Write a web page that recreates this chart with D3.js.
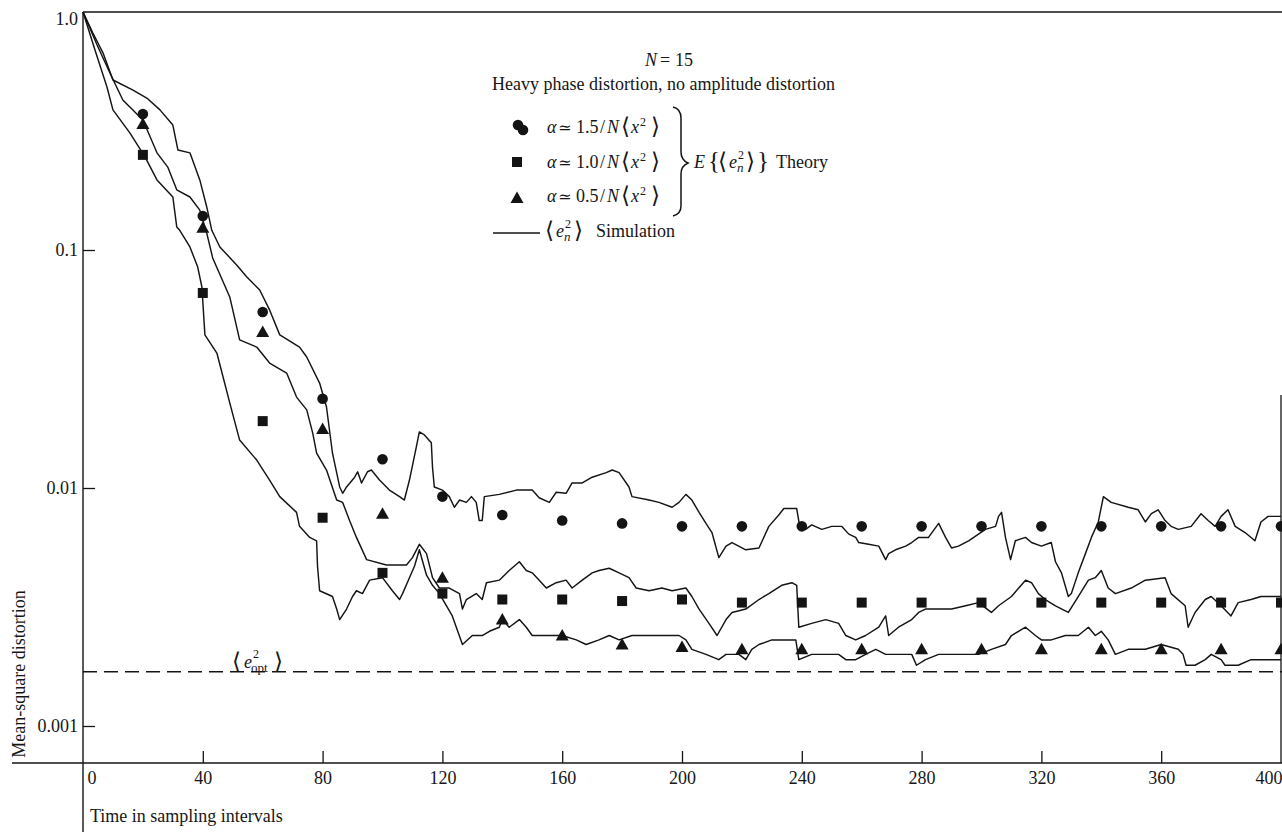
<!DOCTYPE html>
<html>
<head>
<meta charset="utf-8">
<script src="https://cdn.jsdelivr.net/npm/d3@7"></script>
<style>
  body { margin: 0; background: #fff; }
  svg { display: block; }
  text { font-family: "Liberation Serif", "DejaVu Serif", serif; fill: #161616; }
</style>
</head>
<body>
<svg id="chart" width="1282" height="832"></svg>
<script>
// x ticks (time in sampling intervals) and y ticks (mean-square distortion)
var xTicks = [0, 40, 80, 120, 160, 200, 240, 280, 320, 360, 400];
var yTicks = [1, 0.1, 0.01, 0.001];
var yTickLabels = ['1.0', '0.1', '0.01', '0.001'];

// theory points E{<e_n^2>} every 20 samples
var theoryX = [20, 40, 60, 80, 100, 120, 140, 160, 180, 200, 220, 240, 260, 280, 300, 320, 340, 360, 380, 400];
var theoryA15 = [0.373, 0.139, 0.0549, 0.0237, 0.0132, 0.0092, 0.0077, 0.0073, 0.0071, 0.0069,
                 0.0069, 0.0069, 0.0069, 0.0069, 0.0069, 0.0069, 0.0069, 0.0069, 0.0069, 0.0069];
var theoryA10 = [0.251, 0.066, 0.0191, 0.0075, 0.0044, 0.0036, 0.0034, 0.0034, 0.00335, 0.0034,
                 0.0033, 0.0033, 0.0033, 0.0033, 0.0033, 0.0033, 0.0033, 0.0033, 0.0033, 0.0033];
var theoryA05 = [0.338, 0.124, 0.0452, 0.0177, 0.0078, 0.0042, 0.0028, 0.0024, 0.0022, 0.00215,
                 0.0021, 0.0021, 0.0021, 0.0021, 0.0021, 0.0021, 0.0021, 0.0021, 0.0021, 0.0021];

// optimum (Wiener) level
var eOpt = 0.00169;

// simulation runs <e_n^2>: [time, value]
var simUpper = [[0,1.0],[3.3,0.816],[6.7,0.672],[10,0.518],[16.7,0.470],[21.3,0.435],[25.7,0.388],[30,0.335],
  [31.7,0.263],[35.7,0.256],[39,0.197],[41.3,0.152],[43,0.121],[45.7,0.103],[51.3,0.0865],[54.7,0.077],[59,0.0679],
  [62.3,0.056],[65.7,0.044],[72.3,0.0391],[74.7,0.0355],[79,0.0276],[81.3,0.0219],[83.3,0.014],[85.7,0.0101],
  [86.7,0.0095],[88,0.0101],[90.7,0.0111],[91.7,0.0117],[93,0.0105],[95,0.0117],[96.3,0.0119],[99,0.0108],
  [102.3,0.0098],[105.7,0.0092],[107.3,0.0089],[109,0.0108],[111.3,0.0149],[112.3,0.0172],[114,0.0167],
  [116.3,0.0155],[116.7,0.0122],[117.3,0.0101],[120,0.0098],[122.3,0.0092],[124,0.0083],[125.7,0.0089],
  [128,0.0087],[129.7,0.0092],[131.3,0.0087],[132.3,0.0073],[133.3,0.0073],[134,0.0092],[139,0.0094],
  [144.7,0.0098],[150,0.0098],[152.3,0.0091],[155.7,0.0087],[158,0.0096],[161.3,0.0095],[163.3,0.0105],
  [166.7,0.0105],[170,0.0111],[174.7,0.0116],[176.7,0.0119],[179,0.0116],[182.3,0.0101],[183.3,0.0092],
  [189,0.0089],[192.3,0.0087],[196.7,0.0083],[199,0.0087],[201.3,0.0094],[203.3,0.0089],[205.7,0.0079],
  [208,0.0071],[210,0.0065],[212.3,0.0051],[214.7,0.0057],[216.7,0.0059],[221.3,0.0055],[225.7,0.0056],
  [229,0.0069],[232.3,0.0077],[234,0.0082],[238.3,0.0082],[239.3,0.0069],[241.3,0.0067],[243.3,0.007],
  [246.7,0.0067],[250,0.0069],[253.3,0.0069],[255.7,0.0064],[258,0.0062],[259,0.0059],[262.3,0.0058],
  [265.7,0.0057],[268,0.005],[269,0.0053],[271.3,0.0055],[274.7,0.0057],[276.7,0.0059],[279,0.0062],
  [282.3,0.0062],[285.7,0.0071],[288,0.0062],[290,0.0056],[292.3,0.0057],[295.7,0.006],[299,0.0064],
  [301.3,0.0067],[304.7,0.0069],[305.7,0.0076],[306.7,0.0079],[308,0.0062],[309.7,0.005],[311.3,0.006],
  [314.7,0.0062],[316.7,0.0059],[320,0.0057],[323.3,0.0059],[324.7,0.0049],[326.7,0.0044],[329,0.0035],
  [330,0.0036],[332.3,0.0044],[334.7,0.0053],[336.7,0.0062],[339,0.0072],[340.7,0.0092],[343.3,0.0087],
  [349,0.0083],[352.3,0.0081],[354.7,0.0072],[356.7,0.0078],[359,0.0081],[361.3,0.0073],[363.3,0.0069],
  [365.7,0.0067],[370,0.0069],[373.3,0.0078],[375.7,0.0073],[378,0.0069],[380,0.0076],[382.3,0.0081],
  [384.7,0.0069],[388,0.0065],[391.3,0.006],[393.3,0.0072],[395.7,0.0076],[400,0.0076]];

var simMiddle = [[0,1.0],[4.7,0.727],[9,0.554],[13.3,0.427],[20,0.352],[24.7,0.256],[28.3,0.223],[31.3,0.179],
  [35.7,0.167],[39,0.147],[41.3,0.118],[43.3,0.0926],[49,0.0635],[52.3,0.0419],[58,0.0391],[62.3,0.0335],
  [68,0.0304],[71.3,0.0241],[74.7,0.0213],[76.7,0.017],[78,0.014],[81.3,0.0119],[84.7,0.0089],[86.7,0.0087],
  [89,0.0073],[91.3,0.0062],[94.7,0.005],[101.3,0.00475],[108,0.00475],[110,0.0051],[112.3,0.0058],
  [114.7,0.0053],[116.7,0.0042],[119,0.0038],[122.3,0.0038],[125.7,0.0036],[126.7,0.0031],[128,0.0034],
  [131.3,0.0036],[133.3,0.0034],[134.7,0.004],[139,0.0041],[142.3,0.0045],[145.7,0.0049],[148,0.0045],
  [150,0.0044],[154.7,0.0038],[158,0.004],[161.3,0.0041],[163.3,0.0038],[166.7,0.0041],[170,0.0044],
  [172.3,0.0045],[175.7,0.0046],[179,0.0044],[182.3,0.0042],[184.7,0.0038],[189,0.0037],[193.3,0.0038],
  [196.7,0.0037],[201.3,0.0038],[203.3,0.0035],[205.7,0.0031],[209,0.0027],[211.7,0.0024],[214.7,0.0028],
  [216.7,0.003],[221.3,0.0031],[225.7,0.0034],[229,0.0036],[233.3,0.0039],[236.7,0.004],[238.3,0.0039],
  [239,0.0026],[243.3,0.0027],[248,0.0028],[252.3,0.0027],[254.7,0.0024],[258,0.0023],[261.3,0.0024],
  [265.7,0.0026],[268,0.0029],[269,0.0024],[272.3,0.0026],[276.7,0.0028],[279,0.003],[281.3,0.0031],
  [285.7,0.0031],[290,0.0031],[294.7,0.0032],[299,0.0033],[303.3,0.003],[305.7,0.0032],[310,0.0035],
  [314.7,0.0041],[316.7,0.004],[319,0.0036],[321.3,0.0034],[324.7,0.0032],[329,0.003],[332.3,0.0035],
  [335.7,0.0041],[338,0.0042],[340,0.0045],[342.3,0.0038],[344.7,0.0036],[350,0.0038],[354.7,0.0041],
  [361.3,0.0042],[363.3,0.0036],[368,0.0032],[369,0.0026],[371.3,0.003],[374.7,0.0034],[376.7,0.0035],
  [380,0.0032],[383.3,0.0029],[385.7,0.0033],[390,0.0034],[393.3,0.0035],[400,0.0035]];

var simLower = [[0,1.0],[4,0.692],[8,0.484],[10,0.388],[15.7,0.31],[20.7,0.246],[24.7,0.197],[30,0.167],
  [31.3,0.125],[32.3,0.121],[35.7,0.103],[38.3,0.0848],[39.7,0.0699],[40.7,0.044],[44.7,0.0369],[49,0.0228],
  [52.3,0.0159],[58,0.0131],[62.3,0.0108],[65.7,0.0092],[71.3,0.0079],[72.3,0.0069],[75.7,0.0062],[78,0.006],
  [78.3,0.0047],[79,0.0037],[83.3,0.0035],[84.7,0.0031],[85.7,0.0028],[88,0.0031],[90,0.0035],[91.3,0.0037],
  [93.3,0.0036],[95.7,0.0041],[100,0.0042],[103.3,0.0037],[105.7,0.0034],[106.7,0.0036],[109,0.0042],
  [110.7,0.0047],[112.3,0.0055],[114.7,0.0043],[116.7,0.0039],[119,0.0036],[123.3,0.0029],[126.7,0.0022],
  [130,0.0024],[133.3,0.0024],[135.7,0.0025],[139,0.0026],[140,0.0028],[142.3,0.0026],[145.7,0.0028],
  [148,0.0026],[150,0.0024],[156.7,0.0024],[160,0.0024],[164.7,0.0023],[168,0.0022],[172.3,0.0023],
  [175.7,0.0024],[179,0.0023],[183.3,0.0024],[189,0.0024],[194.7,0.0024],[199,0.0024],[201.3,0.0023],
  [203.3,0.0021],[208,0.002],[212.3,0.0019],[214.7,0.002],[219,0.002],[221.3,0.0019],[223.3,0.0021],
  [225.7,0.0022],[230,0.0023],[234.7,0.0023],[238,0.0023],[239,0.0019],[243.3,0.002],[248,0.002],
  [252.3,0.002],[254.7,0.0019],[258,0.0019],[261.3,0.002],[264.7,0.0021],[268,0.002],[272.3,0.002],
  [276.7,0.002],[278.3,0.0018],[281.3,0.0019],[285.7,0.002],[290,0.002],[294.7,0.002],[299,0.002],
  [303.3,0.0021],[308,0.0022],[310,0.0024],[314.7,0.0026],[318,0.0024],[320,0.0023],[323.3,0.0023],
  [328,0.0024],[332.3,0.0024],[335.7,0.0026],[338,0.0024],[340,0.0025],[342.3,0.0023],[344.7,0.002],
  [349,0.0021],[354.7,0.0021],[360,0.0022],[365.7,0.0021],[367.3,0.002],[368.3,0.0018],[371.3,0.0018],
  [374.7,0.0019],[376.7,0.002],[380,0.0019],[381.3,0.0018],[385.7,0.0018],[390,0.0019],[394.7,0.0019],
  [400,0.0019]];

var ink = '#141414';
var svg = d3.select('#chart');

var x = d3.scaleLinear().domain([0, 400]).range([83, 1281]);
var y = d3.scaleLog().domain([0.001, 1]).range([726, 12]);
var yBase = 763; // the time axis sits a bit below 0.001

// frame lines
svg.append('line').attr('x1', 12).attr('x2', 1282).attr('y1', yBase).attr('y2', yBase)
  .attr('stroke', ink).attr('stroke-width', 1.5);
svg.append('line').attr('x1', x(0)).attr('x2', x(0)).attr('y1', y(1)).attr('y2', 832)
  .attr('stroke', ink).attr('stroke-width', 1.4);
svg.append('line').attr('x1', x(0)).attr('x2', 1282).attr('y1', y(1)).attr('y2', y(1))
  .attr('stroke', ink).attr('stroke-width', 1.3);
svg.append('line').attr('x1', x(400)).attr('x2', x(400)).attr('y1', 395).attr('y2', yBase)
  .attr('stroke', ink).attr('stroke-width', 1.3);

// x axis: ticks point up into the plot, labels below
var xAxis = d3.axisBottom(x).tickValues(xTicks).tickSizeInner(-12).tickSizeOuter(0)
  .tickPadding(8).tickFormat(function(d) { return d; });
var gx = svg.append('g').attr('transform', 'translate(0,' + yBase + ')').call(xAxis);
gx.select('.domain').remove();
gx.attr('font-family', null).attr('font-size', 18);
gx.selectAll('.tick line').attr('stroke', ink).attr('stroke-width', 1.3)
  .filter(function(d) { return d === 0 || d === 400; }).remove();
gx.selectAll('.tick text').attr('fill', ink);
gx.selectAll('.tick text').filter(function(d) { return d === 0; })
  .attr('text-anchor', 'start').attr('x', 4);
gx.selectAll('.tick text').filter(function(d) { return d === 400; })
  .attr('text-anchor', 'end').attr('x', 1);

// y axis: ticks point right into the plot
var yAxis = d3.axisLeft(y).tickValues(yTicks).tickSizeInner(-12).tickSizeOuter(0)
  .tickPadding(5).tickFormat(function(d, i) { return yTickLabels[i]; });
var gy = svg.append('g').attr('transform', 'translate(' + x(0) + ',0)').call(yAxis);
gy.select('.domain').remove();
gy.attr('font-family', null).attr('font-size', 18);
gy.selectAll('.tick line').attr('stroke', ink).attr('stroke-width', 1.3)
  .filter(function(d) { return d === 1; }).remove();
gy.selectAll('.tick text').attr('fill', ink);
gy.selectAll('.tick text').filter(function(d) { return d === 1; }).attr('dy', '0.72em');

// axis titles
svg.append('text').attr('transform', 'translate(25,674) rotate(-90)')
  .attr('text-anchor', 'middle').attr('font-size', 18).text('Mean-square distortion');
svg.append('text').attr('x', 90).attr('y', 822).attr('font-size', 18).text('Time in sampling intervals');

// optimum level
svg.append('line').attr('x1', x(0)).attr('x2', 1282).attr('y1', y(eOpt)).attr('y2', y(eOpt))
  .attr('stroke', ink).attr('stroke-width', 1.3).attr('stroke-dasharray', '14,7');

// text built from pieces: italics, super/subscripts, absolute x where given
function rich(x0, y0, size, parts) {
  var t = svg.append('text').attr('x', x0).attr('y', y0).attr('font-size', size);
  var prev = 0;
  parts.forEach(function(p) {
    var rise = p.rise || 0;
    var ts = t.append('tspan').text(p.t).attr('dy', prev - rise);
    if (p.x != null) ts.attr('x', p.x);
    if (p.i) ts.attr('font-style', 'italic');
    if (p.s) ts.attr('font-size', p.s);
    prev = rise;
  });
  return t;
}

rich(233, 668, 18, [
  {t: '\u27E8', s: 23, rise: -1, x: 232}, {t: 'e', i: true, x: 244}, {t: '2', s: 12, rise: 10, x: 253},
  {t: 'opt', s: 13, rise: -4, x: 251}, {t: '\u27E9', s: 23, rise: -1, x: 274}
]);

// simulation traces
var line = d3.line()
  .x(function(d) { return x(d[0]); })
  .y(function(d) { return y(d[1]); });

[simUpper, simMiddle, simLower].forEach(function(run) {
  svg.append('path').datum(run).attr('d', line)
    .attr('fill', 'none').attr('stroke', ink).attr('stroke-width', 1.45)
    .attr('stroke-linejoin', 'round');
});

// theory markers
function pts(vals) {
  return vals.map(function(v, i) { return [theoryX[i], v]; });
}
var triPath = 'M-6.5,5L6.5,5L0,-6.5Z';

svg.append('g').selectAll('circle').data(pts(theoryA15)).join('circle')
  .attr('cx', function(d) { return x(d[0]); })
  .attr('cy', function(d) { return y(d[1]); })
  .attr('r', 5.3).attr('fill', ink);

svg.append('g').selectAll('rect').data(pts(theoryA10)).join('rect')
  .attr('x', function(d) { return x(d[0]) - 5; })
  .attr('y', function(d) { return y(d[1]) - 5; })
  .attr('width', 10).attr('height', 10).attr('fill', ink);

svg.append('g').selectAll('path').data(pts(theoryA05)).join('path')
  .attr('transform', function(d) { return 'translate(' + x(d[0]) + ',' + y(d[1]) + ')'; })
  .attr('d', triPath).attr('fill', ink);

// legend
rich(645, 66, 18, [{t: 'N', i: true}, {t: '=', x: 660}, {t: '15', x: 675}]);
svg.append('text').attr('x', 492).attr('y', 90).attr('font-size', 18)
  .text('Heavy phase distortion, no amplitude distortion');

svg.append('circle').attr('cx', 518).attr('cy', 125).attr('r', 5.3).attr('fill', ink);
svg.append('circle').attr('cx', 523).attr('cy', 130).attr('r', 5.3).attr('fill', ink);
svg.append('rect').attr('x', 512).attr('y', 157).attr('width', 10).attr('height', 10).attr('fill', ink);
svg.append('path').attr('transform', 'translate(517,198)').attr('d', triPath).attr('fill', ink);

var alphaRows = [['1.5', 133], ['1.0', 168], ['0.5', 202]];
alphaRows.forEach(function(r) {
  rich(547, r[1], 18, [
    {t: '\u03B1', i: true}, {t: '\u2243', s: 16, x: 558}, {t: r[0], x: 576}, {t: '/', x: 600},
    {t: 'N', i: true, x: 607}, {t: '\u27E8', s: 23, rise: -1, x: 621}, {t: 'x', i: true, x: 631},
    {t: '2', s: 12, rise: 7, x: 640}, {t: '\u27E9', s: 23, rise: -1, x: 651}
  ]);
});

// big right brace grouping the three theory rows
svg.append('path')
  .attr('d', 'M673,107 Q681,109 681,118 L681,152 Q681,160 688,163 Q681,166 681,174 L681,206 Q681,214 673,216')
  .attr('fill', 'none').attr('stroke', ink).attr('stroke-width', 1.5);

rich(694, 168, 18, [
  {t: 'E', i: true}, {t: '{', s: 25, rise: -1, x: 708}, {t: '\u27E8', s: 23, rise: -1, x: 718},
  {t: 'e', i: true, x: 729}, {t: '2', s: 12, rise: 9, x: 738}, {t: 'n', i: true, s: 13, rise: -4, x: 737},
  {t: '\u27E9', s: 23, rise: -1, x: 746}, {t: '}', s: 25, rise: -1, x: 757}, {t: 'Theory', x: 776}
]);

svg.append('line').attr('x1', 493).attr('x2', 540).attr('y1', 233).attr('y2', 233)
  .attr('stroke', ink).attr('stroke-width', 1.4);
rich(546, 237, 18, [
  {t: '\u27E8', s: 23, rise: -1, x: 545}, {t: 'e', i: true, x: 556}, {t: '2', s: 12, rise: 9, x: 565},
  {t: 'n', i: true, s: 13, rise: -4, x: 564}, {t: '\u27E9', s: 23, rise: -1, x: 574},
  {t: 'Simulation', x: 596}
]);
</script>
</body>
</html>
